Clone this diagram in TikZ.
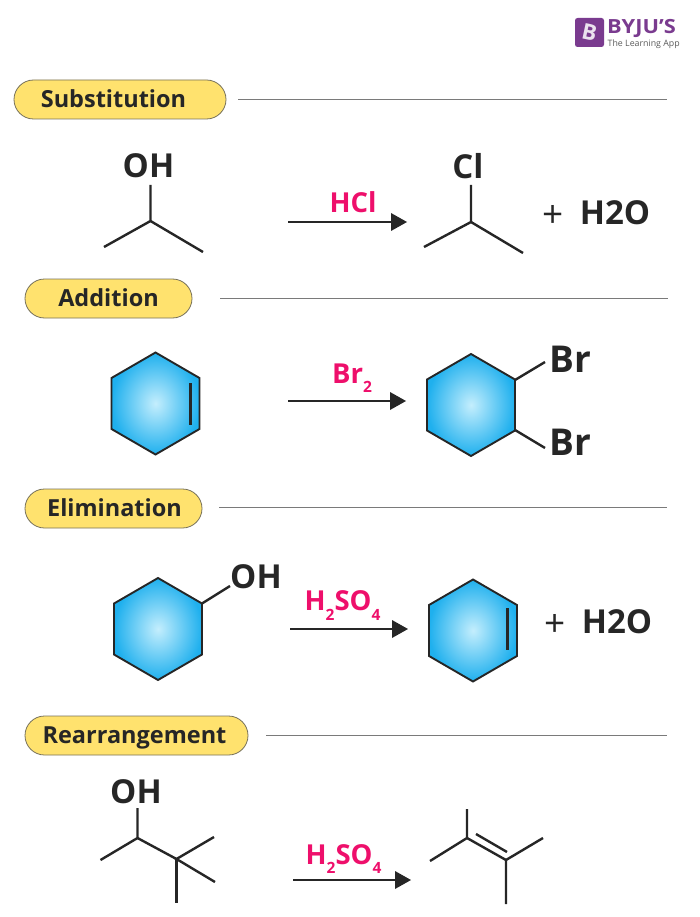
\documentclass[tikz,border=0pt]{standalone}
\usepackage{fontspec}
\setmainfont{Open Sans}
\definecolor{ink}{HTML}{262626}
\definecolor{pink}{HTML}{EE0F6B}
\definecolor{pill}{HTML}{FFE26E}
\definecolor{pillline}{HTML}{77715A}
\definecolor{rulegray}{HTML}{7A7A7A}
\definecolor{ringblue}{HTML}{1FB0EE}
\definecolor{coreblue}{HTML}{C4EEFD}
\definecolor{logopurple}{HTML}{7A3B8F}
\newcommand{\fs}[1]{\fontsize{#1}{#1}\selectfont}
\newcommand{\subdn}[1]{\raisebox{-0.36em}{\fs{15.5}#1}}
\tikzset{
  bond/.style={draw=ink,line width=2.4pt},
  ringbond/.style={draw=ink,line width=3pt},
  ring/.style={draw=ink,line width=1.9pt,line join=miter,inner color=coreblue,outer color=ringblue},
  rarrow/.style={draw=ink,line width=2.5pt},
  rhead/.style={fill=ink,draw=none},
  pilltag/.style={draw=pillline,fill=pill,line width=0.8pt,rounded corners=19.5pt},
  tagtext/.style={font=\bfseries\fs{23.5},text=ink,inner sep=0pt,anchor=base},
  sep/.style={draw=rulegray,line width=0.9pt},
  atom/.style={font=\bfseries\fs{33},text=ink,inner sep=0pt,anchor=center},
  bigatom/.style={font=\bfseries\fs{37},text=ink,inner sep=0pt,anchor=center},
  prod/.style={font=\bfseries\fs{33},text=ink,inner sep=0pt,anchor=center},
  plussign/.style={font=\fs{37},text=ink,inner sep=0pt,anchor=center},
  reagent/.style={font=\bfseries\fs{27.5},text=pink,inner sep=0pt,anchor=base},
}
\newcommand{\pilltagat}[7]{% name x1 x2 y1 y2 textcentre text
  \draw[pilltag] (#2,#4) rectangle (#3,#5);
  \node[tagtext] (#1) at (#6,#4+27.5) {#7};
}
\newcommand{\arrowat}[5]{% name x1 x2 y headstart
  \coordinate (#1a) at (#2,#4);
  \coordinate (#1b) at (#5,#4);
  \coordinate (#1c) at (#3,#4);
  \draw[rarrow] (#1a) -- (#1b);
  \fill[rhead] (#1c) -- ([yshift=9pt]#1b) -- ([yshift=-9pt]#1b) -- cycle;
}
\newcommand{\hexring}[2]{% cx cy  (half width 44, half height 51)
  \path[ring] (#1,#2-51) -- (#1+44,#2-25.5) -- (#1+44,#2+25.5) -- (#1,#2+51) -- (#1-44,#2+25.5) -- (#1-44,#2-25.5) -- cycle;
}
\begin{document}
\begin{tikzpicture}[x=1pt,y=-1pt]
\useasboundingbox (0,0) rectangle (700,917);
% logo
\fill[logopurple,rounded corners=2.5pt] (575,18) rectangle (604,47);
\node[font=\bfseries\fs{22},text=white!85!logopurple,rotate=-12,inner sep=0pt] (logob) at (589.5,32.5) {B};
\node[font=\bfseries\fs{19.5},text=logopurple,inner sep=0pt,anchor=west,xscale=1.12] (logot) at (607,28) {BYJU'S};
\node[font=\fs{8.8},text=black!65,inner sep=0pt,anchor=west] (logos) at (607.5,44) {The Learning App};
% headers
\pilltagat{t1}{14}{226}{80}{119}{113.5}{Substitution}
\pilltagat{t2}{25}{192}{279}{318}{108.5}{Addition}
\pilltagat{t3}{25}{202}{489}{528}{114.5}{Elimination}
\pilltagat{t4}{25}{248}{716}{755}{134.5}{Rearrangement}
\coordinate (s1a) at (238,99.5); \coordinate (s1b) at (667,99.5);
\coordinate (s2a) at (220,298); \coordinate (s2b) at (668,298);
\coordinate (s3a) at (219,507); \coordinate (s3b) at (667,507);
\coordinate (s4a) at (266,735); \coordinate (s4b) at (667,735);
\draw[sep] (s1a) -- (s1b);
\draw[sep] (s2a) -- (s2b);
\draw[sep] (s3a) -- (s3b);
\draw[sep] (s4a) -- (s4b);
% substitution
\node[atom] (oh1) at (148.5,166) {OH};
\coordinate (a0) at (150.5,221);
\coordinate (a1) at (150.5,185); \coordinate (a2) at (104,247); \coordinate (a3) at (203,252);
\draw[bond] (a1) -- (a0) -- (a2); \draw[bond] (a0) -- (a3);
\arrowat{r1}{288}{407}{222}{391}
\node[reagent] (hcl) at (353,213) {HCl};
\node[atom] (cl) at (468,166) {Cl};
\coordinate (b0) at (471,222);
\coordinate (b1) at (471,185); \coordinate (b2) at (424,247); \coordinate (b3) at (523,253);
\draw[bond] (b1) -- (b0) -- (b2); \draw[bond] (b0) -- (b3);
\node[plussign] (p1) at (553,216) {+};
\node[prod] (w1) at (615,213) {H2O};
% addition
\hexring{155.5}{403.5}
\coordinate (d1a) at (190,383); \coordinate (d1b) at (190,425);
\draw[ringbond] (d1a) -- (d1b);
\arrowat{r2}{288}{406}{401}{390}
\node[reagent] (br2) at (352,383) {Br\subdn{2}};
\hexring{471}{405}
\coordinate (e1) at (515,380); \coordinate (e2) at (545,362);
\coordinate (e3) at (515,430); \coordinate (e4) at (545,448);
\draw[bond] (e1) -- (e2); \draw[bond] (e3) -- (e4);
\node[bigatom] (br3) at (570,359) {Br};
\node[bigatom] (br4) at (570,442) {Br};
% elimination
\hexring{158}{629}
\coordinate (f1) at (202,603.5); \coordinate (f2) at (230,586);
\draw[bond] (f1) -- (f2);
\node[atom] (oh2) at (256,577) {OH};
\arrowat{r3}{290}{408}{629}{392}
\node[reagent] (h1) at (342.5,610.7) {H\subdn{2}SO\subdn{4}};
\hexring{473}{630.5}
\coordinate (g1) at (507,608); \coordinate (g2) at (507,650);
\draw[ringbond] (g1) -- (g2);
\node[plussign] (p2) at (555,625) {+};
\node[prod] (w2) at (617,622) {H2O};
% rearrangement
\node[atom] (oh3) at (136,792) {OH};
\coordinate (k0) at (137.5,838); \coordinate (k1) at (137.5,808); \coordinate (k2) at (100.5,860);
\coordinate (k3) at (176.5,859); \coordinate (k4) at (214,837); \coordinate (k5) at (215,882); \coordinate (k6) at (176.5,903);
\draw[bond] (k1) -- (k0) -- (k2); \draw[bond] (k0) -- (k3);
\draw[bond] (k4) -- (k3) -- (k5); \draw[bond] (k3) -- (k6);
\arrowat{r4}{293}{411}{880}{395}
\node[reagent] (h2) at (343.5,864) {H\subdn{2}SO\subdn{4}};
\coordinate (m0) at (467,838); \coordinate (m1) at (467,809); \coordinate (m2) at (430,861);
\coordinate (m3) at (506,860); \coordinate (m4) at (543,838); \coordinate (m5) at (506,904);
\coordinate (m6) at (476,834); \coordinate (m7) at (507,852);
\draw[bond] (m1) -- (m0) -- (m2); \draw[bond] (m0) -- (m3);
\draw[bond] (m4) -- (m3) -- (m5); \draw[bond] (m6) -- (m7);
\end{tikzpicture}
\end{document}
